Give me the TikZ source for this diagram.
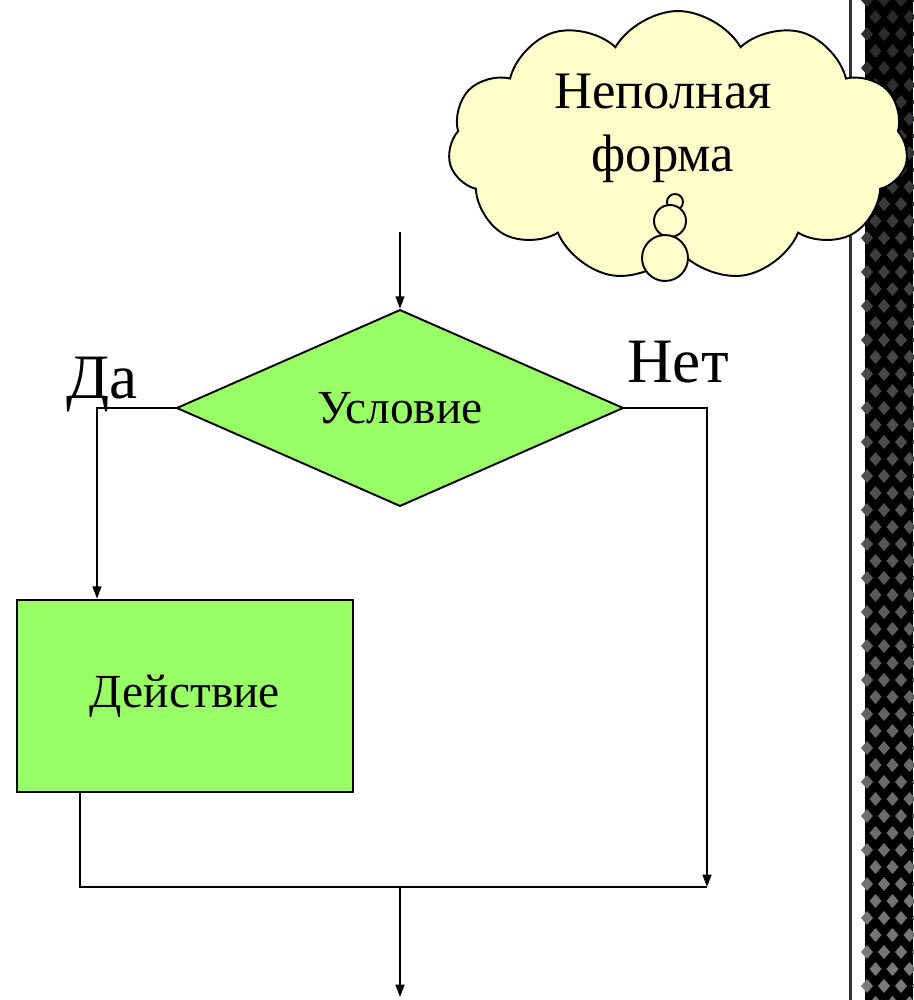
\documentclass[tikz,border=0pt]{standalone}
\usepackage{fontspec}
\setmainfont{Liberation Serif}
\usetikzlibrary{arrows.meta,shapes.geometric,shapes.symbols,positioning}
\definecolor{blockgreen}{RGB}{153,255,102}
\definecolor{cloudyellow}{RGB}{255,255,204}

\begin{document}
\begin{tikzpicture}[x=0.02cm, y=-0.02cm,
  block/.style={rectangle, draw, line width=1.5pt, fill=blockgreen, minimum width=6.72cm, minimum height=3.84cm, font=\fontsize{27}{32}\selectfont},
  decision/.style={diamond, draw, line width=1.1pt, fill=blockgreen, minimum width=8.94cm, minimum height=3.82cm, inner sep=0pt, font=\fontsize{27}{32}\selectfont},
  answer/.style={inner sep=0pt, anchor=base, font=\fontsize{36}{40}\selectfont},
  flow/.style={line width=1.1pt},
  arrow/.style={flow, -{Triangle[length=7pt,width=5pt]}}
]
  \useasboundingbox (0,0) rectangle (913,1000);

  % slide border on the right
  \fill[black] (865,0) rectangle (913,1000);
  \foreach \r in {0,...,62} {
    \pgfmathsetmacro{\tone}{16+34*\r/62}
    \foreach \c in {0,...,3} {
      \fill[white!\tone!black] ({867+17*\c+8.5*mod(\r,2)},{17*\r}) +(0,-7) -- +(6,0) -- +(0,7) -- +(-6,0) -- cycle;
    }
  }
  \fill[black!80] (849,0) rectangle (852,1000);

  % thought cloud
  \node[cloud, draw, line width=1.1pt, fill=cloudyellow, cloud puffs=11, cloud puff arc=120, aspect=1.7, minimum width=9.2cm, minimum height=5.4cm, inner sep=0pt] (thought) at (678,146) {};
  \node[align=center, font=\fontsize{30}{36}\selectfont] (thoughttext) at (663,128) {Неполная\\форма};
  \draw[flow, fill=cloudyellow] (675,202) circle[radius=0.16cm];
  \draw[flow, fill=cloudyellow] (670,221) circle[radius=0.32cm];
  \draw[flow, fill=cloudyellow] (665,258) circle[radius=0.46cm];

  % flowchart
  \coordinate (start) at (400,232);
  \node[decision] (cond) at (400,408) {Условие};
  \node[block] (act) at (185,696) {Действие};
  \coordinate (yes) at (97,408);
  \coordinate (no) at (707,408);
  \coordinate (merge) at (80,887);
  \coordinate (join) at (707,887);
  \coordinate (exit) at (400,997);

  \node[answer] (yestext) at (102,398) {Да};
  \node[answer] (notext) at (678,382) {Нет};

  \draw[arrow] (start) -- (cond.north);
  \draw[arrow] (cond.west) -- (yes) -- (yes |- act.north);
  \draw[arrow] (cond.east) -- (no) -- (join);
  \draw[flow] (act.south -| merge) -- (merge) -- (join);
  \draw[arrow] (exit |- merge) -- (exit);
\end{tikzpicture}
\end{document}
